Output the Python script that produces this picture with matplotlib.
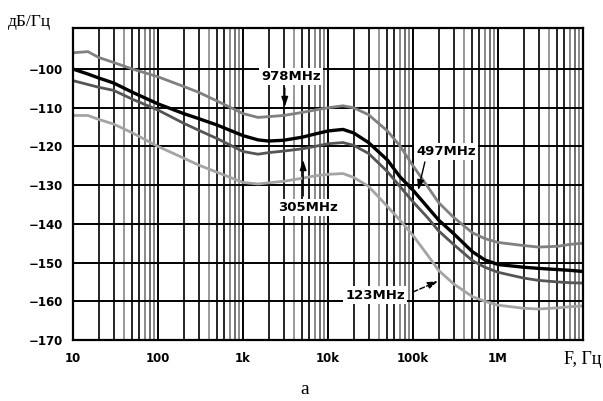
import matplotlib
matplotlib.use("Agg")
import matplotlib.pyplot as plt
import numpy as np

# ---- data ----
freq = [10, 15, 20, 30, 50, 100, 200, 300, 500, 1e3, 1.5e3, 2e3, 3e3, 5e3, 7e3,
        1e4, 1.5e4, 2e4, 3e4, 5e4, 7e4, 1e5, 1.5e5, 2e5, 3e5, 5e5, 7e5,
        1e6, 2e6, 3e6, 5e6, 7e6, 1e7]

n978 = [-95.8, -95.5, -97.0, -98.3, -100.0, -102.0, -104.5, -106.0, -108.3, -111.5, -112.5,
        -112.3, -112.0, -111.2, -110.6, -110.0, -109.5, -110.0, -111.8, -116.0, -119.8,
        -125.0, -130.5, -134.5, -138.3, -142.3, -143.8, -144.8, -145.6, -146.0, -145.8,
        -145.3, -145.0]

n497 = [-100.0, -101.3, -102.3, -103.6, -106.0, -109.0, -111.5, -112.8, -114.5, -117.2,
        -118.3, -118.6, -118.4, -117.6, -116.8, -116.0, -115.6, -116.5, -119.0, -123.5,
        -127.8, -131.3, -135.8, -139.0, -142.5, -147.2, -149.3, -150.5, -151.2, -151.5,
        -151.8, -152.0, -152.3]

n305 = [-103.0, -104.0, -104.7, -105.5, -107.8, -110.6, -114.0, -115.8, -118.0, -121.3,
        -122.0, -121.6, -121.2, -120.6, -120.0, -119.3, -119.0, -119.7, -121.8, -126.5,
        -130.3, -134.3, -138.5, -141.8, -145.3, -149.5, -151.2, -152.5, -154.0, -154.6,
        -155.0, -155.2, -155.3]

n123 = [-112.0, -112.0, -113.0, -114.2, -116.5, -120.0, -123.0, -124.8, -126.7, -129.3,
        -129.7, -129.4, -129.0, -128.2, -127.6, -127.2, -127.0, -128.0, -130.3, -135.5,
        -139.0, -143.0, -148.2, -152.0, -155.5, -158.8, -160.0, -161.0, -161.8, -162.0,
        -161.7, -161.4, -161.2]

yticks = [-170, -160, -150, -140, -130, -120, -110, -100]
ytick_labels = ["\u2212170", "\u2212160", "\u2212150", "\u2212140", "\u2212130",
                "\u2212120", "\u2212110", "\u2212100"]
xticks = [10, 100, 1e3, 1e4, 1e5, 1e6, 1e7]
xtick_labels = ["10", "100", "1k", "10k", "100k", "1M", ""]

fig = plt.figure(figsize=(6.03, 4.01), dpi=100)
ax = fig.add_axes([73/603, 1-340/401, 510/603, 312/401])
ax.set_xscale("log")
ax.set_xlim(10, 1e7)
ax.set_ylim(-170, -89.4)

# grid
sub_col = {2: "black", 3: "black", 4: "#888888", 5: "black", 6: "black",
           7: "#777777", 8: "#555555", 9: "#777777"}
for d in [10, 100, 1e3, 1e4, 1e5, 1e6]:
    ax.axvline(d, color="black", lw=1.4, zorder=1)
    for s in range(2, 10):
        ax.axvline(d*s, color=sub_col[s], lw=1.2, zorder=1)
for y in yticks:
    ax.axhline(y, color="black", lw=1.4, zorder=1)

ax.plot(freq, n123, color="#a4a4a4", lw=2.0, zorder=3)
ax.plot(freq, n305, color="#555555", lw=2.0, zorder=3)
ax.plot(freq, n978, color="#808080", lw=2.0, zorder=3)
ax.plot(freq, n497, color="black", lw=2.4, zorder=4)

ax.set_yticks(yticks)
ax.set_yticklabels(ytick_labels)
ax.set_xticks(xticks)
ax.set_xticklabels(xtick_labels)
ax.xaxis.set_minor_locator(matplotlib.ticker.NullLocator())
ax.tick_params(axis="both", length=0)
ax.tick_params(axis="y", pad=7)
ax.tick_params(axis="x", pad=9)
for lab in ax.get_xticklabels() + ax.get_yticklabels():
    lab.set_fontfamily("DejaVu Sans")
    lab.set_fontweight("bold")
    lab.set_fontsize(8.5)
for sp in ax.spines.values():
    sp.set_linewidth(1.6)
    sp.set_zorder(5)

tfont = dict(family="DejaVu Sans", weight="bold", fontsize=9.5, zorder=6,
             ha="center", va="center",
             bbox=dict(facecolor="white", edgecolor="none", pad=1.5))
ap = dict(arrowstyle="-|>,head_width=0.2,head_length=0.6", color="black", lw=1.0,
          shrinkA=0, shrinkB=0)

ax.text(3.67e3, -102.0, "978MHz", **tfont)
ax.annotate("", xy=(3.1e3, -109.8), xytext=(3.1e3, -104.9), arrowprops=ap, zorder=6)
ax.text(5.8e3, -135.7, "305MHz", **tfont)
ax.annotate("", xy=(5.1e3, -123.5), xytext=(5.1e3, -132.8), arrowprops=ap, zorder=6)
ax.text(2.46e5, -121.4, "497MHz", **tfont)
ax.annotate("", xy=(1.15e5, -131.3), xytext=(1.38e5, -124.0), arrowprops=ap, zorder=6)
ax.text(3.57e4, -158.4, "123MHz", **tfont)
ap2 = dict(ap, linestyle="--")
ax.annotate("", xy=(1.97e5, -154.8), xytext=(1.0e5, -157.6), arrowprops=ap2, zorder=6)

fig.text(8/603, 1-22/401, "дБ/Гц", family="Liberation Serif", fontsize=12.5,
         ha="left", va="center")
fig.text(602/603, 1-359/401, "F, Гц", family="Liberation Serif", fontsize=13,
         ha="right", va="center")
fig.text(305/603, 1-390/401, "а", family="Liberation Serif", fontsize=14,
         ha="center", va="center")

fig.savefig("out.png", dpi=100)
